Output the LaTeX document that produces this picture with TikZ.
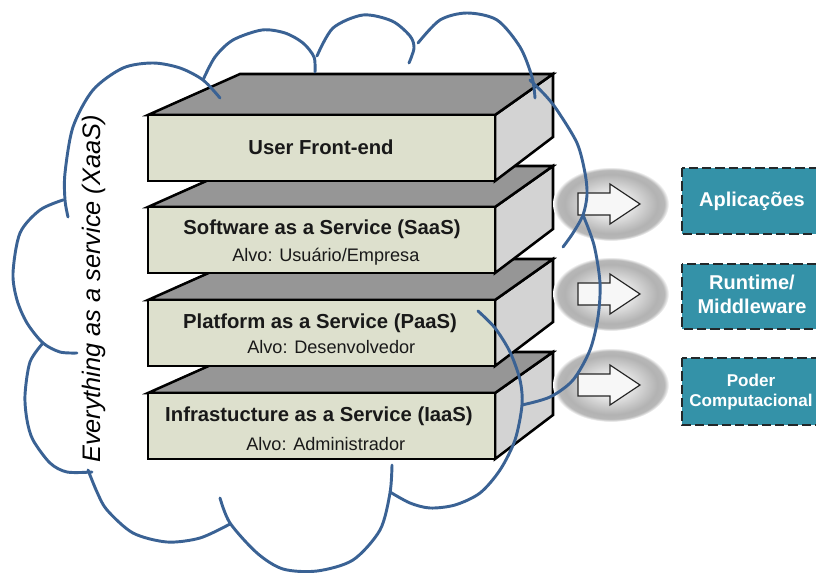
\documentclass[tikz,border=0pt]{standalone}
\usepackage{fontspec}
\setmainfont{Liberation Sans}
\definecolor{frontkhaki}{RGB}{221,224,205}
\definecolor{topgray}{RGB}{150,150,150}
\definecolor{sidegray}{RGB}{211,211,211}
\definecolor{cloudblue}{RGB}{58,98,148}
\definecolor{tealfill}{RGB}{52,146,168}
\definecolor{dashgray}{RGB}{35,40,42}
\pgfdeclareradialshading{ballgray}{\pgfpoint{0bp}{0bp}}{%
  color(0bp)=(white); color(7bp)=(white!93!black); color(20bp)=(white!70!black);
  color(23bp)=(white!72!black); color(25bp)=(white); color(50bp)=(white)}
% one layer of the stack: right face, top face, front face
\newcommand\stacklayer[1]{%
  \filldraw[boxline, fill=sidegray] (495,#1) -- (553,{#1-41}) -- (553,{#1+22}) -- (495,{#1+66}) -- cycle;
  \filldraw[boxline, fill=topgray] (148,#1) -- (240,{#1-41}) -- (553,{#1-41}) -- (495,#1) -- cycle;
  \filldraw[boxline, fill=frontkhaki] (148,#1) rectangle (495,{#1+66});
}
% block arrow inside a shaded ellipse, centred on height #1
\newcommand\flowarrow[2]{%
  \coordinate (#2) at (611,#1);
  \shade[shading=ballgray] (#2) ellipse [x radius=58, y radius=37];
  \filldraw[arrowline] (578,{#1-11}) -- (610,{#1-11}) -- (610,{#1-20}) -- (640,#1)
     -- (610,{#1+20}) -- (610,{#1+11}) -- (578,{#1+11}) -- cycle;
}
\begin{document}
\begin{tikzpicture}[x=0.75pt,y=-0.75pt,
  boxline/.style={draw=black, line width=1.9pt, line join=miter},
  arrowline/.style={draw=black!85, line width=0.9pt, fill=white!97!black},
  cloudline/.style={draw=cloudblue, line width=2.2pt, line cap=round},
  title/.style={font=\fontsize{15.2}{18}\selectfont\bfseries, text=black!90, inner sep=0pt},
  sub/.style={font=\fontsize{13.6}{16}\selectfont, text=black!90, inner sep=0pt},
  tealbox/.style={fill=tealfill, draw=dashgray, line width=1.1pt, dash pattern=on 7pt off 3pt},
  tealtext/.style={font=\fontsize{#1}{18}\selectfont\bfseries, text=white, inner sep=0pt},
  tealtext/.default=15]
\useasboundingbox (0,0) rectangle (816,573);
\clip (0,0) rectangle (816,573);

% the service stack, drawn from the bottom layer up
\stacklayer{393}
\stacklayer{300}
\stacklayer{207}
\stacklayer{115}

\node[title, anchor=base] (ufe) at (321,155) {User Front-end};
\node[title, anchor=base] (saas) at (322,235) {Software as a Service (SaaS)};
\node[sub, anchor=base west] (saasalvo) at (232,262) {Alvo: Usuário/Empresa};
\node[title, anchor=base] (paas) at (320,328) {Platform as a Service (PaaS)};
\node[sub, anchor=base west] (paasalvo) at (247,353) {Alvo: Desenvolvedor};
\node[title, anchor=base] (iaas) at (319,421) {Infrastucture as a Service (IaaS)};
\node[sub, anchor=base west] (iaasalvo) at (246,450) {Alvo: Administrador};

% arrows towards the delivered resources
\flowarrow{204}{ea}
\flowarrow{294}{eb}
\flowarrow{385}{ec}

\draw[tealbox] (682,168) rectangle (824,234);
\draw[tealbox] (682,264) rectangle (824,329);
\draw[tealbox] (682,358) rectangle (824,425);
\node[tealtext, anchor=base] (apl) at (752,207) {Aplicações};
\node[tealtext, anchor=base] (rt1) at (752,290) {Runtime/};
\node[tealtext, anchor=base] (rt2) at (752,313) {Middleware};
\node[tealtext=12.8, anchor=base] (pc1) at (751,386) {Poder};
\node[tealtext=12.8, anchor=base] (pc2) at (751,406) {Computacional};

\node[rotate=90, anchor=base, font=\fontsize{19}{22}\selectfont\itshape, inner sep=0pt] (xaas)
  at (100,289) {Everything as a service (XaaS)};

% the cloud outline, lobe by lobe
\draw[cloudline] plot[smooth] coordinates {(63,200) (40,210) (20,233) (13,273) (17,300) (27,323) (43,343) (60,352) (77,353)};
\draw[cloudline] plot[smooth] coordinates {(43,343) (30,362) (25,395) (27,420) (33,440) (50,463) (67,472) (92,472)};
\draw[cloudline] plot[smooth] coordinates {(88,470) (97,492) (107,510) (133,533) (167,542) (200,538) (230,524)};
\draw[cloudline] plot[smooth] coordinates {(220,498) (230,523) (257,553) (283,569) (317,571) (353,560) (380,530) (390,493) (392,465)};
\draw[cloudline] plot[smooth] coordinates {(390,492) (410,503) (430,508) (455,505) (480,493) (500,470) (515,440) (522,405) (520,380) (510,352) (495,328) (478,311)};
\draw[cloudline] plot[smooth] coordinates {(522,405) (550,397) (573,380) (590,350) (598,317) (600,283) (594,245) (583,215)};
\draw[cloudline] plot[smooth] coordinates {(530,80) (545,95) (557,110) (577,143) (585,173) (587,195) (583,215) (573,233) (563,247)};
\draw[cloudline] plot[smooth] coordinates {(418,43) (440,20) (467,13) (497,20) (520,47) (532,77) (535,98)};
\draw[cloudline] plot[smooth] coordinates {(317,56) (333,28) (363,15) (392,21) (410,36) (414,48) (409,63)};
\draw[cloudline] plot[smooth] coordinates {(203,80) (215,57) (233,40) (262,30) (285,33) (303,43) (314,57) (315,72)};
\draw[cloudline] plot[smooth] coordinates {(220,98) (203,80) (180,68) (153,63) (123,68) (93,90) (73,127) (65,173) (65,200) (68,217)};
\end{tikzpicture}
\end{document}
